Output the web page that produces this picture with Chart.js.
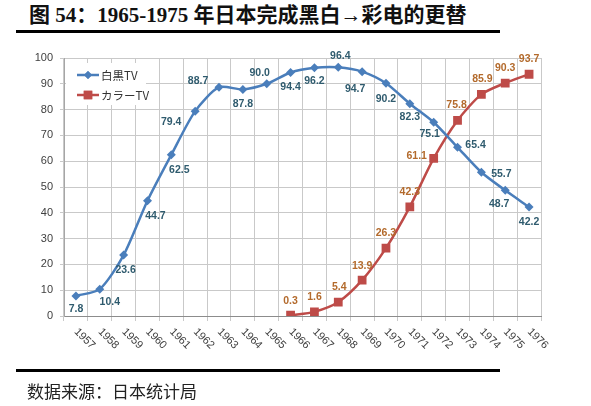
<!DOCTYPE html>
<html>
<head>
<meta charset="utf-8">
<script src="https://cdn.jsdelivr.net/npm/chart.js@4"></script>
<style>
  html,body{margin:0;padding:0;background:#fff;}
  #wrap{position:relative;width:591px;height:406px;background:#fff;overflow:hidden;}
  #title{position:absolute;left:29px;top:1px;font:bold 21px "Liberation Serif","Noto Sans CJK SC",serif;line-height:28px;color:#111;white-space:nowrap;}
  .rule{position:absolute;left:16px;width:484px;height:3px;background:#000;}
  #src{position:absolute;left:27px;top:379px;font:17px "Noto Sans CJK SC",sans-serif;line-height:24px;color:#222;white-space:nowrap;}
  #c{position:absolute;left:0;top:0;}
</style>
</head>
<body>
<div id="wrap">
  <div id="title">图 54：1965-1975 年日本完成黑白→彩电的更替</div>
  <div class="rule" style="top:30px"></div>
  <canvas id="c" width="591" height="406"></canvas>
  <div class="rule" style="top:369px"></div>
  <div id="src">数据来源：日本统计局</div>
</div>
<script>
const years = ['1957','1958','1959','1960','1961','1962','1963','1964','1965','1966',
               '1967','1968','1969','1970','1971','1972','1973','1974','1975','1976'];
const bwTV = [7.8,10.4,23.6,44.7,62.5,79.4,88.7,87.8,90.0,94.4,
              96.2,96.4,94.7,90.2,82.3,75.1,65.4,55.7,48.7,42.2];
const colorTV = [null,null,null,null,null,null,null,null,null,0.3,
                 1.6,5.4,13.9,26.3,42.3,61.1,75.8,85.9,90.3,93.7];
const seriesNames = ['白黒TV','カラーTV'];
const yMin = 0, yMax = 100, yStep = 10;

const BLUE = '#4a7ebb', RED = '#be4b48';
const LABEL_BLUE = '#2f5b6e', LABEL_RED = '#b36a2c';

// label placement (style only)
const labelStyle = {
  0: {color: LABEL_BLUE, off: [[0,13],[10,13],[2,15],[8,15],[8,15],[-24,11],[-21,-6],[0,15],[-7,-11],[0,15],
                              [0,13],[2,-11],[-7,17],[0,16],[0,13],[-4,12],[18,-2],[20,2],[-6,14],[0,15]]},
  1: {color: LABEL_RED, off: [null,null,null,null,null,null,null,null,null,[0,-14],
                              [0,-15],[1,-15],[0,-14],[0,-15],[0,-15],[-17,-2],[-1,-15],[1,-15],[0,-15],[0,-15]]}
};

const customPlugin = {
  id: 'custom',
  beforeDatasetsDraw(chart) {
    const ctx = chart.ctx;
    ctx.save();
    ctx.fillStyle = '#fff';
    ctx.fillRect(66, 63, 80, 42);
    const items = [{name: seriesNames[0], color: BLUE, style: 'rectRot', r: 4, y: 75},
                   {name: seriesNames[1], color: RED, style: 'rect', r: 6, y: 95}];
    items.forEach(it => {
      ctx.strokeStyle = it.color; ctx.lineWidth = 2.5;
      ctx.beginPath(); ctx.moveTo(77, it.y); ctx.lineTo(99, it.y); ctx.stroke();
      ctx.fillStyle = it.color;
      Chart.helpers.drawPoint(ctx, {pointStyle: it.style, radius: it.r, borderWidth: 0}, 88, it.y);
      ctx.fill();
      ctx.fillStyle = '#333';
      ctx.font = '11.5px "Noto Sans CJK JP","Liberation Sans",sans-serif';
      ctx.textAlign = 'left'; ctx.textBaseline = 'middle';
      ctx.fillText(it.name, 101, it.y + 1);
    });
    ctx.restore();
  },
  afterDatasetsDraw(chart) {
    const ctx = chart.ctx;
    ctx.save();
    ctx.font = 'bold 10.5px "Liberation Sans",Arial,sans-serif';
    ctx.textAlign = 'center'; ctx.textBaseline = 'middle';
    chart.data.datasets.forEach((ds, di) => {
      const meta = chart.getDatasetMeta(di);
      const st = labelStyle[di];
      ctx.fillStyle = st.color;
      meta.data.forEach((pt, i) => {
        const v = ds.data[i];
        if (v === null || v === undefined) return;
        const o = st.off[i] || [0, -14];
        ctx.fillText(v.toFixed(1), pt.x + o[0], pt.y + o[1]);
      });
    });
    ctx.restore();
  },
  afterDraw(chart) {
    const ctx = chart.ctx;
    const xs = chart.scales.x;
    ctx.save();
    ctx.font = '11px "Liberation Sans",Arial,sans-serif';
    ctx.fillStyle = '#404040';
    ctx.textAlign = 'left'; ctx.textBaseline = 'middle';
    xs.ticks.forEach((t, i) => {
      const x = xs.getPixelForTick(i);
      ctx.save();
      ctx.translate(x, xs.top + 14);
      ctx.rotate(Math.PI / 4);
      ctx.fillText(xs.getLabelForValue(t.value), 0, 0);
      ctx.restore();
    });
    ctx.restore();
  }
};

new Chart(document.getElementById('c'), {
  type: 'line',
  data: {
    labels: years,
    datasets: [
      {label: seriesNames[0], data: bwTV, borderColor: BLUE, backgroundColor: BLUE,
       borderWidth: 2.5, pointStyle: 'rectRot', pointRadius: 4.5, pointBorderWidth: 0,
       pointBackgroundColor: BLUE, tension: 0.25, fill: false},
      {label: seriesNames[1], data: colorTV, borderColor: RED, backgroundColor: RED,
       borderWidth: 2.5, pointStyle: 'rect', pointRadius: 6.2, pointBorderWidth: 0,
       pointBackgroundColor: RED, tension: 0.25, fill: false}
    ]
  },
  options: {
    responsive: false,
    animation: false,
    devicePixelRatio: 1,
    layout: {padding: {top: 58, right: 50, left: 0, bottom: 0}},
    plugins: {legend: {display: false}, tooltip: {enabled: false}, title: {display: false}},
    scales: {
      x: {
        type: 'category',
        offset: true,
        grid: {offset: true, color: '#c9c9c9', lineWidth: 1, tickLength: 5, drawTicks: true},
        border: {color: '#8c8c8c', width: 1},
        ticks: {display: false},
        afterFit: s => { s.height = 90; }
      },
      y: {
        min: yMin, max: yMax,
        ticks: {stepSize: yStep, color: '#404040', padding: 7,
                font: {size: 11, family: '"Liberation Sans",Arial,sans-serif'}},
        grid: {color: '#c9c9c9', lineWidth: 1, tickLength: 4},
        border: {color: '#a6a6a6', width: 1},
        afterFit: s => { s.width = 64; }
      }
    }
  },
  plugins: [customPlugin]
});
</script>
</body>
</html>
